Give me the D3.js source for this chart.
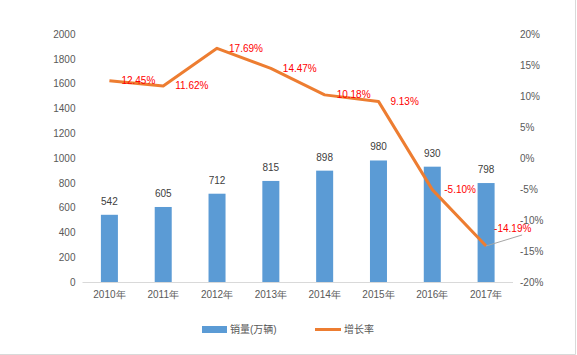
<!DOCTYPE html>
<html><head><meta charset="utf-8">
<script src="https://cdn.jsdelivr.net/npm/d3@7"></script>
<style>
body{margin:0;background:#fff;}
svg{display:block;font-family:"Liberation Sans","Noto Sans CJK SC",sans-serif;}
</style></head>
<body><svg id="c" width="577" height="355"></svg>
<script>
const categories = ["2010年","2011年","2012年","2013年","2014年","2015年","2016年","2017年"];
const sales = [542, 605, 712, 815, 898, 980, 930, 798];
const growth = [12.45, 11.62, 17.69, 14.47, 10.18, 9.13, -5.10, -14.19];
const leftTicks = [0,200,400,600,800,1000,1200,1400,1600,1800,2000];
const rightTicks = [-20,-15,-10,-5,0,5,10,15,20];
const seriesNames = ["销量(万辆)", "增长率"];

const svg = d3.select("#c");
const x0 = 82.5, x1 = 513, yTop = 34, yBot = 282;

// border (right & bottom visible)
svg.append("line").attr("x1",575.5).attr("x2",575.5).attr("y1",0).attr("y2",354.5).attr("stroke","#d9d9d9");
svg.append("line").attr("x1",0).attr("x2",575.5).attr("y1",354.5).attr("y2",354.5).attr("stroke","#d9d9d9");

const x = d3.scaleBand().domain(categories).range([x0, x1]).padding(0);
const yL = d3.scaleLinear().domain([0,2000]).range([yBot, yTop]);
const yR = d3.scaleLinear().domain([-20,20]).range([yBot, yTop]);
const barW = x.step()*0.316;
const cx = d => x(d) + x.bandwidth()/2;

// left axis
const axL = svg.append("g").attr("transform",`translate(${x0},0)`)
  .call(d3.axisLeft(yL).tickValues(leftTicks).tickSize(0).tickPadding(7).tickFormat(d3.format("d")));
axL.select(".domain").remove();
axL.selectAll("text").attr("fill","#595959").style("font-size","10px").style("font-family","Liberation Sans");

// right axis
const axR = svg.append("g").attr("transform",`translate(${x1},0)`)
  .call(d3.axisRight(yR).tickValues(rightTicks).tickSize(0).tickPadding(7).tickFormat(d=>d+"%"));
axR.select(".domain").remove();
axR.selectAll("text").attr("fill","#595959").style("font-size","10px").style("font-family","Liberation Sans");

// bottom axis
const axB = svg.append("g").attr("transform",`translate(0,${yBot})`)
  .call(d3.axisBottom(x).tickSize(0).tickPadding(9));
axB.select(".domain").attr("stroke","#d9d9d9").attr("d",`M${x0},0.5H${x1}`);
axB.selectAll("text").attr("fill","#595959").style("font-size","10px");

// bars
svg.append("g").selectAll("rect").data(sales).join("rect")
  .attr("x",(d,i)=>cx(categories[i])-barW/2)
  .attr("y",d=>yL(d)).attr("width",barW).attr("height",d=>yBot-yL(d))
  .attr("fill","#5b9bd5");

// bar labels
svg.append("g").selectAll("text").data(sales).join("text")
  .attr("x",(d,i)=>cx(categories[i])).attr("y",d=>yL(d)-10)
  .attr("text-anchor","middle").attr("fill","#404040").style("font-size","10px")
  .text(d=>d);

// line
const line = d3.line().x((d,i)=>cx(categories[i])).y(d=>yR(d));
svg.append("path").datum(growth).attr("d",line)
  .attr("fill","none").attr("stroke","#ed7d31").attr("stroke-width",3).attr("stroke-linejoin","round");

// leader line for last label
const li = growth.length-1;
const lpx = cx(categories[li]), lpy = yR(growth[li]);
svg.append("line").attr("x1",lpx).attr("y1",lpy).attr("x2",lpx+36).attr("y2",lpy-11)
  .attr("stroke","#a6a6a6").attr("stroke-width",1);

// line labels
svg.append("g").selectAll("text").data(growth).join("text")
  .attr("x",(d,i)=> cx(categories[i]) + (i===li ? 8 : 12))
  .attr("y",(d,i)=> yR(d) + (i===li ? -17 : 0))
  .attr("dy","0.35em").attr("fill","#ff0000").style("font-size","10px")
  .text(d=>d.toFixed(2)+"%");

// legend
const lg = svg.append("g");
lg.append("rect").attr("x",202).attr("y",326).attr("width",25).attr("height",7).attr("fill","#5b9bd5");
lg.append("text").attr("x",230).attr("y",329).attr("dy","0.35em").attr("fill","#595959").style("font-size","10px").text(seriesNames[0]);
lg.append("line").attr("x1",315).attr("x2",341).attr("y1",329.5).attr("y2",329.5).attr("stroke","#ed7d31").attr("stroke-width",3);
lg.append("text").attr("x",344).attr("y",329).attr("dy","0.35em").attr("fill","#595959").style("font-size","10px").text(seriesNames[1]);
</script></body></html>
